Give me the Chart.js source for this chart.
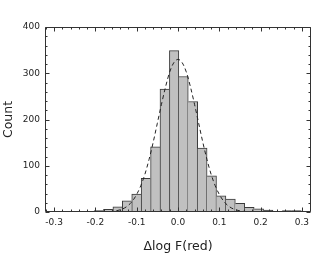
<!DOCTYPE html>
<html><head><meta charset="utf-8">
<script src="https://cdn.jsdelivr.net/npm/chart.js@4"></script>
<style>html,body{margin:0;padding:0;background:#fff}</style>
</head><body>
<canvas id="c" width="335" height="254"></canvas>
<script>
// Histogram bins (centers) and counts
const binCenters = [-0.2146,-0.1918,-0.169,-0.1462,-0.1234,-0.1006,-0.0778,-0.055,-0.0322,-0.0094,0.0134,0.0362,0.059,0.0818,0.1046,0.1274,0.1502,0.173,0.1958,0.2186,0.2414,0.2642,0.287];
const counts     = [1,3,6,11,24,39,73,141,266,349,293,239,138,78,35,28,19,10,7,4,1,3,3];
// Dashed fit curve
const curveX = [-0.20,-0.18,-0.16,-0.15,-0.14,-0.13,-0.12,-0.11,-0.10,-0.09,-0.08,-0.07,-0.06,-0.05,-0.04,-0.03,-0.02,-0.01,0.00,0.01,0.02,0.03,0.04,0.05,0.06,0.07,0.08,0.09,0.10,0.11,0.12,0.13,0.14,0.15,0.16,0.18,0.20];
const curveY = [0,0.3,1.3,2.5,4.7,8.4,14.5,24,38,57,82,114,151,192,233,271,303,323,330,323,303,271,233,192,151,114,82,57,38,24,14.5,8.4,4.7,2.5,1.3,0.3,0];
// Axes
const xTickValues = [-0.3,-0.2,-0.1,0,0.1,0.2,0.3];
const xTickLabels = ['-0.3','-0.2','-0.1','0.0','0.1','0.2','0.3'];
const yTickValues = [0,100,200,300,400];
const yTickLabels = ['0','100','200','300','400'];
const xRange = [-0.322, 0.322];
const yRange = [0, 400];
const xMinorStep = 0.02, yMinorStep = 20;
const xTitle = 'Δlog F(red)', yTitle = 'Count';

const INK = '#222';
const tickFont = {family:'DejaVu Sans', size:9};
const titleFont = {family:'DejaVu Sans', size:12.5};

const frame = {
  id:'frame',
  afterDatasetsDraw(chart){
    const {ctx, chartArea:a, scales:{x, y}} = chart;
    ctx.save();
    ctx.strokeStyle = '#333';
    ctx.lineWidth = 1;
    ctx.beginPath();
    const L=Math.round(a.left)+0.5, R=Math.round(a.right)-0.5, T=Math.round(a.top)+0.5, B=Math.round(a.bottom)-0.5;
    ctx.rect(L, T, R-L, B-T);
    const major = 4, minor = 2;
    const xs = [];
    for (let k=Math.ceil(xRange[0]/xMinorStep-1e-9); k<=Math.floor(xRange[1]/xMinorStep+1e-9); k++) xs.push(k*xMinorStep);
    xs.forEach(v=>{
      const isMaj = xTickValues.some(t=>Math.abs(t-v)<1e-6);
      const len = isMaj?major:minor;
      const px = Math.round(x.getPixelForValue(v))+0.5;
      ctx.moveTo(px,B); ctx.lineTo(px,B-len);
      ctx.moveTo(px,T); ctx.lineTo(px,T+len);
    });
    for (let v=yRange[0]; v<=yRange[1]+1e-9; v+=yMinorStep){
      const isMaj = yTickValues.some(t=>Math.abs(t-v)<1e-6);
      const len = isMaj?major:minor;
      const py = Math.round(y.getPixelForValue(v))+0.5;
      ctx.moveTo(L,py); ctx.lineTo(L+len,py);
      ctx.moveTo(R,py); ctx.lineTo(R-len,py);
    }
    ctx.stroke();
    ctx.restore();
  }
};

function edgeWidths(c){
  const i=c.dataIndex, h=counts[i];
  const prev = i>0?counts[i-1]:-1, next = i<counts.length-1?counts[i+1]:-1;
  return {top:1, bottom:0, left: h>=prev?1:0, right: h>next?1:0};
}

new Chart(document.getElementById('c'), {
  type:'bar',
  data:{
    datasets:[
      {type:'line', order:0, data: curveX.map((v,i)=>({x:v,y:curveY[i]})),
       borderColor:'#222', borderWidth:1, borderDash:[4,3], pointRadius:0, fill:false,
       cubicInterpolationMode:'monotone'},
      {type:'bar', order:1, data: binCenters.map((v,i)=>({x:v,y:counts[i]})),
       backgroundColor:'#c0c0c0', borderColor:'#3a3a3a', borderWidth:edgeWidths,
       borderSkipped:false, barPercentage:1, categoryPercentage:1}
    ]
  },
  options:{
    responsive:false, animation:false, devicePixelRatio:1,
    layout:{padding:{left:0, right:24, top:27, bottom:0}},
    plugins:{legend:{display:false}, tooltip:{enabled:false}},
    scales:{
      x:{type:'linear', min:xRange[0], max:xRange[1], offset:false,
         grid:{display:false, drawTicks:false}, border:{display:false},
         afterBuildTicks(s){ s.ticks = xTickValues.map(v=>({value:v})); },
         afterFit(s){ s.height = 42; },
         ticks:{font:tickFont, color:INK, padding:5, maxRotation:0, autoSkip:false,
                callback:(v,i)=>xTickLabels[i]},
         title:{display:true, text:xTitle, font:titleFont, color:INK, padding:{top:0,bottom:0}}},
      y:{type:'linear', min:yRange[0], max:yRange[1],
         grid:{display:false, drawTicks:false}, border:{display:false},
         afterBuildTicks(s){ s.ticks = yTickValues.map(v=>({value:v})); },
         afterFit(s){ s.width = 45; },
         ticks:{font:tickFont, color:INK, padding:5, autoSkip:false,
                callback:(v,i)=>yTickLabels[i]},
         title:{display:true, text:yTitle, font:titleFont, color:INK, padding:{top:1,bottom:0}}}
    }
  },
  plugins:[frame]
});
</script>
</body></html>
